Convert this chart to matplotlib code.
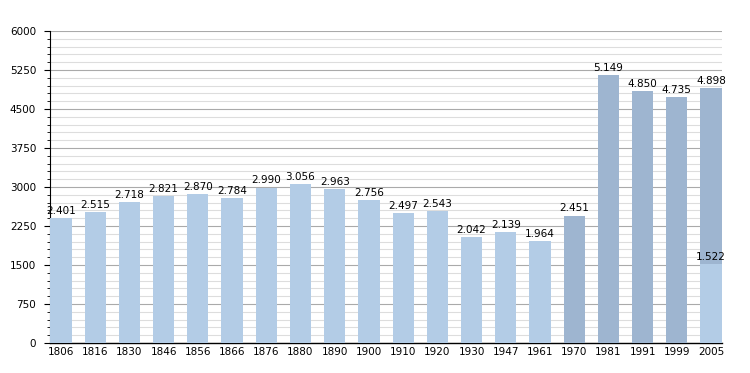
import matplotlib.pyplot as plt
import numpy as np
from matplotlib.ticker import MultipleLocator

years = ['1806', '1816', '1830', '1846', '1856', '1866', '1876', '1880', '1890', '1900',
         '1910', '1920', '1930', '1947', '1961', '1970', '1981', '1991', '1999', '2005']
population = [2401, 2515, 2718, 2821, 2870, 2784, 2990, 3056, 2963, 2756,
              2497, 2543, 2042, 2139, 1964, 2451, 5149, 4850, 4735, 4898]
overlay_year = '2005'
overlay_value = 1522

light = '#b3cce6'
dark = '#9eb5d0'

fig = plt.figure(figsize=(7.5, 3.73), dpi=100)
ax = fig.add_axes([0.0667, 0.0804, 0.896, 0.8366])

x = np.arange(len(years))
colors = [light if int(y) < 1970 else dark for y in years]
ax.bar(x, population, width=0.62, color=colors, zorder=3)
for xi, v in zip(x, population):
    ax.text(xi, v + 40, f'{v/1000:.3f}', ha='center', va='bottom', fontsize=7.5, zorder=4)

oi = years.index(overlay_year)
ax.bar(oi, overlay_value, width=0.62, color=light, zorder=3)
ax.text(oi, overlay_value + 40, f'{overlay_value/1000:.3f}', ha='center', va='bottom', fontsize=7.5, zorder=4)

ax.set_xlim(-0.32, len(years) - 1 + 0.32)
ax.set_ylim(0, 6000)
ax.yaxis.set_major_locator(MultipleLocator(750))
ax.yaxis.set_minor_locator(MultipleLocator(150))
ax.grid(which='major', axis='y', color='#aaaaaa', linewidth=0.8, zorder=1)
ax.grid(which='minor', axis='y', color='#dddddd', linewidth=0.8, zorder=1)
ax.set_xticks(x)
ax.set_xticklabels(years)
ax.tick_params(axis='x', length=0, labelsize=7.5, pad=3)
ax.tick_params(axis='y', which='major', length=4, labelsize=7.5, pad=6)
ax.tick_params(axis='y', which='minor', length=2)
for s in ['top', 'right']:
    ax.spines[s].set_visible(False)
ax.spines['left'].set_linewidth(0.8)
ax.spines['bottom'].set_linewidth(1.0)

fig.savefig('out.png', dpi=100)
